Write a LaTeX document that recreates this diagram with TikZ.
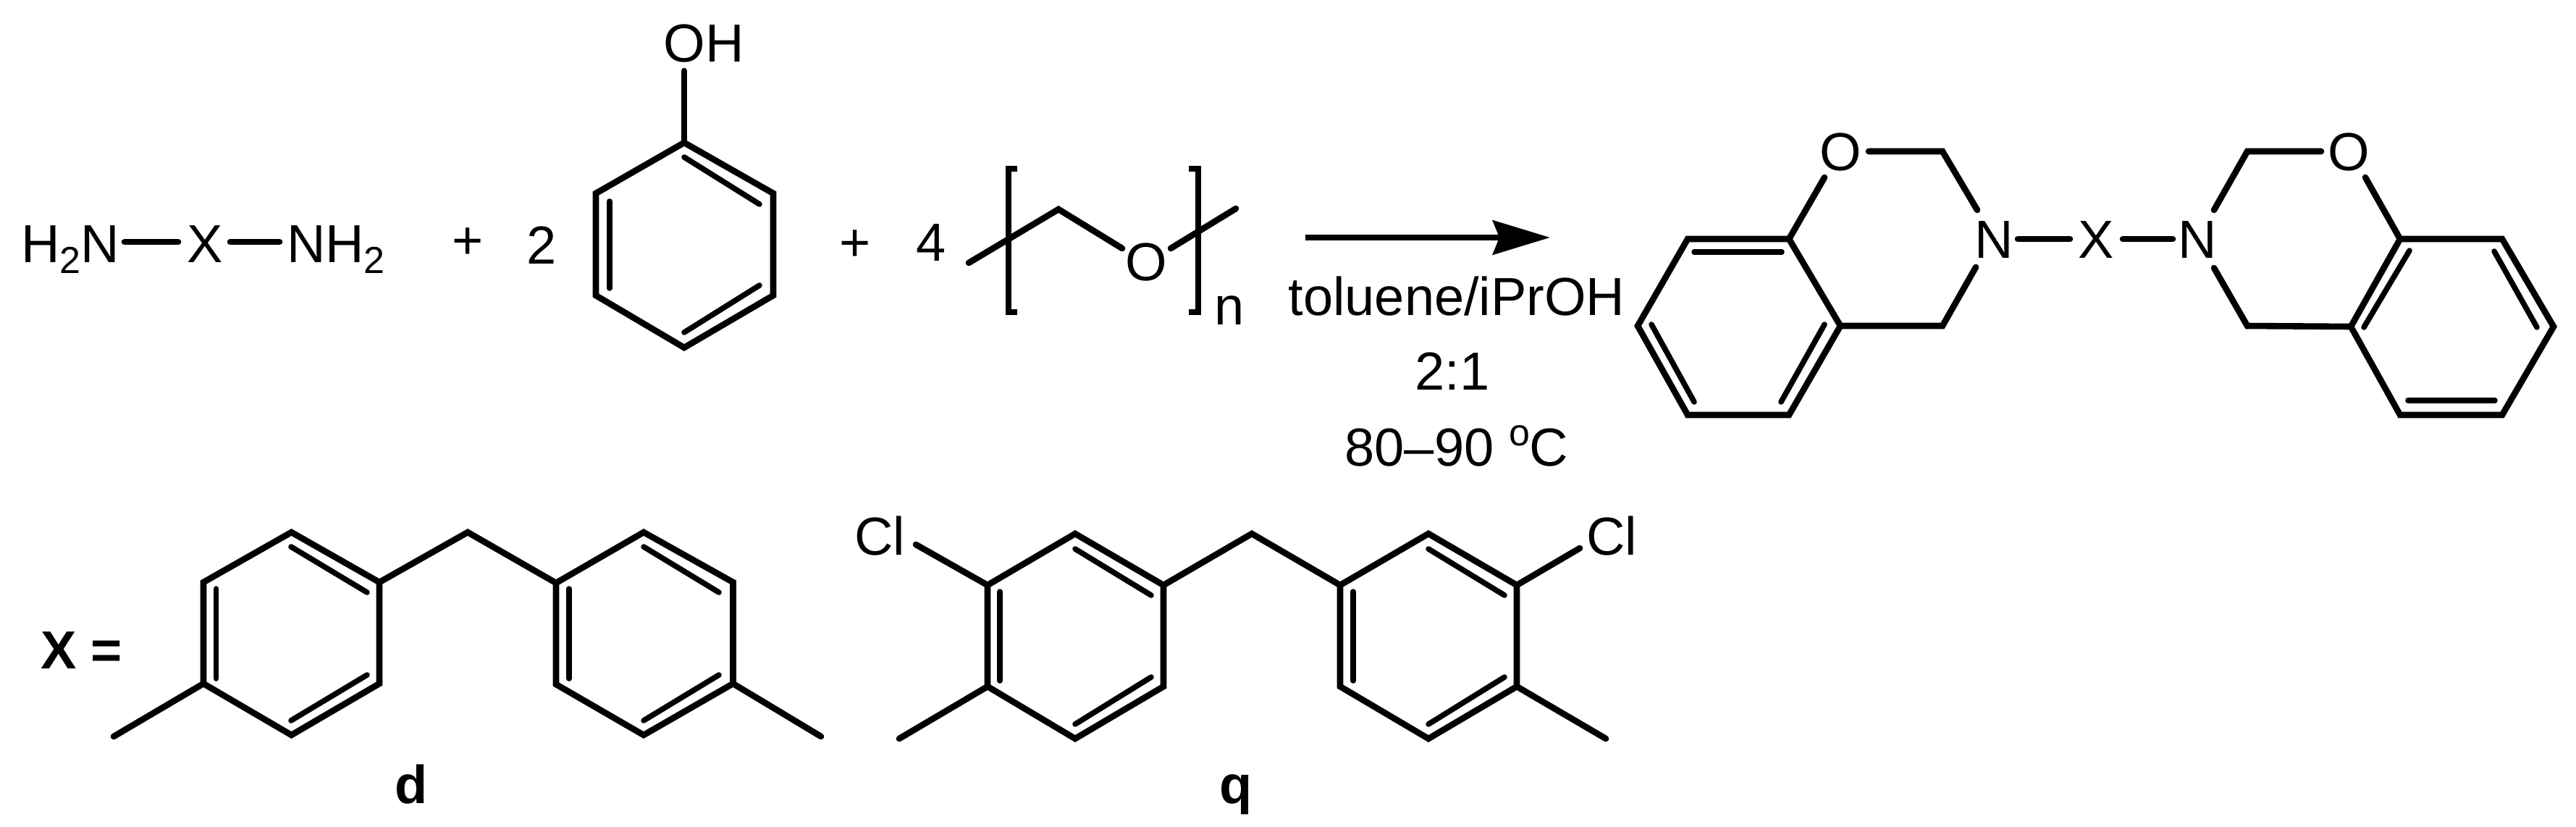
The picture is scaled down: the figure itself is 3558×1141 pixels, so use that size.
\documentclass[tikz,border=0pt]{standalone}
\usepackage{fontspec}
\setmainfont{Liberation Sans}
\usetikzlibrary{arrows.meta}
\newcommand\lowtwo{\raisebox{-15pt}{\fontsize{52}{60}\selectfont 2}}
\tikzset{
  x=1pt,y=-1pt,
  bond/.style={line width=8.6pt,line cap=round,line join=miter,miter limit=10},
  inner/.style={line width=7.6pt,line cap=round},
  lab/.style={inner sep=0pt,outer sep=0pt,anchor=base,font=\fontsize{74}{88}\selectfont},
  blab/.style={lab,font=\fontsize{74}{88}\selectfont\bfseries},
  rxn/.style={line width=8.6pt,-{Stealth[length=79pt,width=47pt,inset=9pt]}},
}
\begin{document}
\begin{tikzpicture}
\useasboundingbox (0,0) rectangle (3558,1141);
% --- diamine
\node[lab,anchor=base west] (h2n) at (29,362) {H\lowtwo N};
\node[lab] (xa) at (283,362) {X};
\node[lab,anchor=base west] (nh2) at (396,362) {NH\lowtwo};
\coordinate (ba1) at (172,334); \coordinate (ba2) at (246,334);
\coordinate (ba3) at (318,334); \coordinate (ba4) at (386,334);
\draw[bond] (ba1) -- (ba2);
\draw[bond] (ba3) -- (ba4);
\node[lab] (plus1) at (646,357) {+};
\node[lab] (two) at (748,364) {2};
% --- phenol
\coordinate (p1) at (945,197); \coordinate (p2) at (1068,267); \coordinate (p3) at (1068,408);
\coordinate (p4) at (945,480); \coordinate (p5) at (823,408); \coordinate (p6) at (823,267);
\node[lab] (oh) at (972,85) {OH};
\coordinate (ohb) at (945,98);
\draw[bond] (p1) -- (p2) -- (p3) -- (p4) -- (p5) -- (p6) -- cycle;
\draw[bond] (p1) -- (ohb);
\coordinate (pi1) at (945,217); \coordinate (pi2) at (1049,282);
\coordinate (pi3) at (1049,394); \coordinate (pi4) at (945,459);
\coordinate (pi5) at (842,398); \coordinate (pi6) at (842,278);
\draw[inner] (pi1) -- (pi2);
\draw[inner] (pi3) -- (pi4);
\draw[inner] (pi5) -- (pi6);
\node[lab] (plus2) at (1181,360) {+};
\node[lab] (four) at (1286,360) {4};
% --- paraformaldehyde
\coordinate (f1) at (1338,363); \coordinate (f2) at (1462,289); \coordinate (f3) at (1550,343);
\coordinate (f4) at (1617,343); \coordinate (f5) at (1707,288);
\node[lab] (fo) at (1583,387) {O};
\draw[bond] (f1) -- (f2) -- (f3);
\draw[bond] (f4) -- (f5);
\coordinate (bl1) at (1405,233); \coordinate (bl2) at (1393,233); \coordinate (bl3) at (1393,431); \coordinate (bl4) at (1405,431);
\coordinate (br1) at (1642,233); \coordinate (br2) at (1655,233); \coordinate (br3) at (1655,431); \coordinate (br4) at (1642,431);
\draw[line width=7.6pt,line join=miter] (bl1) -- (bl2) -- (bl3) -- (bl4);
\draw[line width=7.6pt,line join=miter] (br1) -- (br2) -- (br3) -- (br4);
\node[lab] (n) at (1698,448) {n};
% --- arrow
\coordinate (ar1) at (1803,328); \coordinate (ar2) at (2141,328);
\draw[rxn] (ar1) -- (ar2);
\node[lab] (cond1) at (2012,435) {toluene/iPrOH};
\node[lab] (cond2) at (2006,538) {2:1};
\node[lab] (cond3) at (2012,643) {80–90 \raisebox{28pt}{\fontsize{52}{60}\selectfont o}C};
% --- product, left benzoxazine
\coordinate (a1) at (2471,330); \coordinate (a2) at (2542,450); \coordinate (a3) at (2471,573);
\coordinate (a4) at (2331,573); \coordinate (a5) at (2262,450); \coordinate (a6) at (2331,330);
\draw[bond] (a1) -- (a2) -- (a3) -- (a4) -- (a5) -- (a6) -- cycle;
\coordinate (ai1) at (2461,348); \coordinate (ai2) at (2340,348);
\coordinate (ai3) at (2281,448); \coordinate (ai4) at (2340,555);
\coordinate (ai5) at (2520,448); \coordinate (ai6) at (2460,555);
\draw[inner] (ai1) -- (ai2);
\draw[inner] (ai3) -- (ai4);
\draw[inner] (ai5) -- (ai6);
\node[lab] (o1) at (2542,235) {O};
\node[lab] (n1) at (2754,356) {N};
\node[lab] (xb) at (2895,356) {X};
\node[lab] (n2) at (3035,356) {N};
\node[lab] (o2) at (3244,235) {O};
\coordinate (c1) at (2520,245); \coordinate (c2) at (2581,209); \coordinate (c3) at (2683,209);
\coordinate (c4) at (2731,290); \coordinate (c5) at (2729,369); \coordinate (c6) at (2683,450);
\draw[bond] (a1) -- (c1);
\draw[bond] (c2) -- (c3) -- (c4);
\draw[bond] (c5) -- (c6) -- (a2);
\coordinate (x1) at (2787,330); \coordinate (x2) at (2859,330);
\coordinate (x3) at (2932,330); \coordinate (x4) at (3001,330);
\draw[bond] (x1) -- (x2);
\draw[bond] (x3) -- (x4);
% --- product, right benzoxazine
\coordinate (e1) at (3315,330); \coordinate (e2) at (3456,330); \coordinate (e3) at (3527,451);
\coordinate (e4) at (3456,573); \coordinate (e5) at (3315,573); \coordinate (e6) at (3247,451);
\draw[bond] (e1) -- (e2) -- (e3) -- (e4) -- (e5) -- (e6) -- cycle;
\coordinate (ei1) at (3328,346); \coordinate (ei2) at (3265,452);
\coordinate (ei3) at (3445,347); \coordinate (ei4) at (3504,452);
\coordinate (ei5) at (3326,553); \coordinate (ei6) at (3446,553);
\draw[inner] (ei1) -- (ei2);
\draw[inner] (ei3) -- (ei4);
\draw[inner] (ei5) -- (ei6);
\coordinate (g1) at (3058,290); \coordinate (g2) at (3104,209); \coordinate (g3) at (3206,209);
\coordinate (g4) at (3267,245); \coordinate (g5) at (3058,370); \coordinate (g6) at (3104,450);
\draw[bond] (g1) -- (g2) -- (g3);
\draw[bond] (g4) -- (e1);
\draw[bond] (g5) -- (g6) -- (e6);
% --- X =
\node[blab,anchor=base west] (xeq) at (56,923) {X =};
% --- d
\coordinate (d1) at (402.5,735); \coordinate (d2) at (524,804); \coordinate (d3) at (524,944);
\coordinate (d4) at (402.5,1015); \coordinate (d5) at (281,944); \coordinate (d6) at (281,804);
\draw[bond] (d1) -- (d2) -- (d3) -- (d4) -- (d5) -- (d6) -- cycle;
\coordinate (di1) at (298.5,813); \coordinate (di2) at (298.5,937);
\coordinate (di3) at (402,755); \coordinate (di4) at (507,818);
\coordinate (di5) at (507,932); \coordinate (di6) at (402,995);
\draw[inner] (di1) -- (di2);
\draw[inner] (di3) -- (di4);
\draw[inner] (di5) -- (di6);
\coordinate (dm1) at (157,1017); \coordinate (dc) at (646,735);
\draw[bond] (dm1) -- (d5);
\coordinate (f6) at (768,805); \coordinate (f7) at (889,735); \coordinate (f8) at (1012.5,804);
\coordinate (f9) at (1012.5,944); \coordinate (f10) at (889,1015); \coordinate (f11) at (768,945);
\draw[bond] (f6) -- (f7) -- (f8) -- (f9) -- (f10) -- (f11) -- cycle;
\draw[bond] (d2) -- (dc) -- (f6);
\coordinate (fi1) at (786,813); \coordinate (fi2) at (786,937);
\coordinate (fi3) at (889,755); \coordinate (fi4) at (993,818);
\coordinate (fi5) at (993,932); \coordinate (fi6) at (889,995);
\draw[inner] (fi1) -- (fi2);
\draw[inner] (fi3) -- (fi4);
\draw[inner] (fi5) -- (fi6);
\coordinate (dm2) at (1134,1017);
\draw[bond] (f9) -- (dm2);
\node[blab] (dl) at (568,1109) {d};
% --- q
\coordinate (q1) at (1485,737); \coordinate (q2) at (1607,808); \coordinate (q3) at (1607,948);
\coordinate (q4) at (1485,1020); \coordinate (q5) at (1364,948); \coordinate (q6) at (1364,808);
\draw[bond] (q1) -- (q2) -- (q3) -- (q4) -- (q5) -- (q6) -- cycle;
\coordinate (qi1) at (1381,817); \coordinate (qi2) at (1381,940);
\coordinate (qi3) at (1485,758); \coordinate (qi4) at (1590,822);
\coordinate (qi5) at (1590,935); \coordinate (qi6) at (1485,1000);
\draw[inner] (qi1) -- (qi2);
\draw[inner] (qi3) -- (qi4);
\draw[inner] (qi5) -- (qi6);
\coordinate (qm1) at (1242,1020); \coordinate (qc) at (1729,737);
\coordinate (qb1) at (1265,752);
\draw[bond] (qm1) -- (q5);
\draw[bond] (qb1) -- (q6);
\coordinate (r1) at (1851,808); \coordinate (r2) at (1973,737); \coordinate (r3) at (2095,808);
\coordinate (r4) at (2095,948); \coordinate (r5) at (1973,1020); \coordinate (r6) at (1851,948);
\draw[bond] (r1) -- (r2) -- (r3) -- (r4) -- (r5) -- (r6) -- cycle;
\draw[bond] (q2) -- (qc) -- (r1);
\coordinate (ri1) at (1869,817); \coordinate (ri2) at (1869,940);
\coordinate (ri3) at (1973,758); \coordinate (ri4) at (2078,822);
\coordinate (ri5) at (2078,935); \coordinate (ri6) at (1973,1000);
\draw[inner] (ri1) -- (ri2);
\draw[inner] (ri3) -- (ri4);
\draw[inner] (ri5) -- (ri6);
\coordinate (qm2) at (2218,1020); \coordinate (qb2) at (2182,757);
\draw[bond] (r4) -- (qm2);
\draw[bond] (r3) -- (qb2);
\node[lab,anchor=base west] (cl1) at (1180,766) {Cl};
\node[lab,anchor=base west] (cl2) at (2191,766) {Cl};
\node[blab] (ql) at (1707,1109) {q};
\end{tikzpicture}
\end{document}
